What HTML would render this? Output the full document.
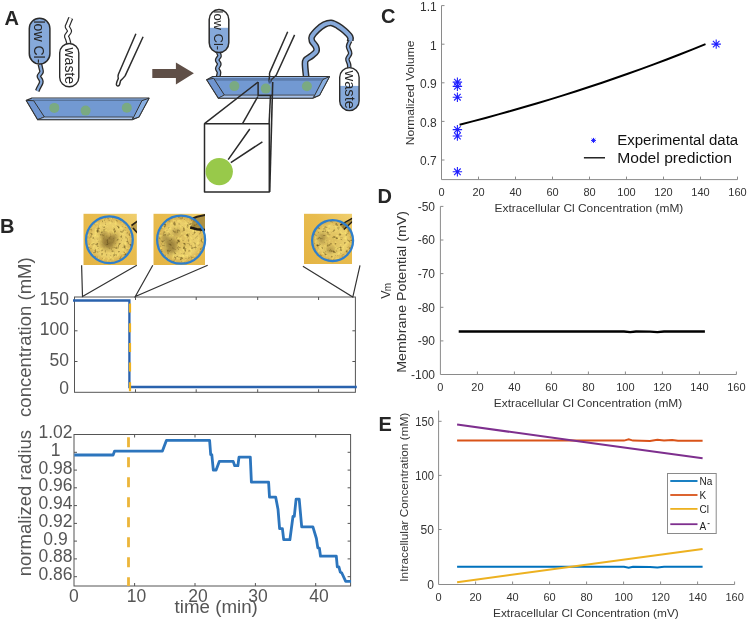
<!DOCTYPE html>
<html><head><meta charset="utf-8">
<style>
html,body{margin:0;padding:0;background:#fff;}
svg{display:block;font-family:"Liberation Sans",sans-serif;will-change:transform;}
</style></head>
<body>
<svg width="747" height="621" viewBox="0 0 747 621">
<defs>
  <g id="ast"><path d="M0,-4.7V4.7M-4.7,0H4.7M-3.3,-3.3L3.3,3.3M-3.3,3.3L3.3,-3.3" stroke="#1f1fff" stroke-width="1.1" fill="none"/></g>
  <radialGradient id="cellg" cx="0.5" cy="0.5" r="0.5">
    <stop offset="0" stop-color="#dcbc5c"/>
    <stop offset="0.7" stop-color="#ebd06c"/>
    <stop offset="0.9" stop-color="#dab656"/>
    <stop offset="1" stop-color="#cfa64a"/>
  </radialGradient>
  <linearGradient id="bgg" x1="0" y1="1" x2="1" y2="0">
    <stop offset="0" stop-color="#e4b444"/>
    <stop offset="0.6" stop-color="#e8bc4e"/>
    <stop offset="1" stop-color="#f0d070"/>
  </linearGradient>
  
    <filter id="dark3" x="0" y="0" width="1" height="1" color-interpolation-filters="sRGB">
      <feTurbulence type="fractalNoise" baseFrequency="0.3" numOctaves="2" seed="3"/>
      <feColorMatrix values="0 0 0 0 0.36  0 0 0 0 0.28  0 0 0 0 0.08  -2.6 0 0 0 1.16"/>
      <feGaussianBlur stdDeviation="0.35"/>
    </filter>
    <filter id="lite3" x="0" y="0" width="1" height="1" color-interpolation-filters="sRGB">
      <feTurbulence type="fractalNoise" baseFrequency="0.4" numOctaves="1" seed="13"/>
      <feColorMatrix values="0 0 0 0 1  0 0 0 0 0.92  0 0 0 0 0.45  0 2.4 0 0 -1.25"/>
    </filter>
    <filter id="dark5" x="0" y="0" width="1" height="1" color-interpolation-filters="sRGB">
      <feTurbulence type="fractalNoise" baseFrequency="0.3" numOctaves="2" seed="5"/>
      <feColorMatrix values="0 0 0 0 0.36  0 0 0 0 0.28  0 0 0 0 0.08  -2.6 0 0 0 1.16"/>
      <feGaussianBlur stdDeviation="0.35"/>
    </filter>
    <filter id="lite5" x="0" y="0" width="1" height="1" color-interpolation-filters="sRGB">
      <feTurbulence type="fractalNoise" baseFrequency="0.4" numOctaves="1" seed="15"/>
      <feColorMatrix values="0 0 0 0 1  0 0 0 0 0.92  0 0 0 0 0.45  0 2.4 0 0 -1.25"/>
    </filter>
    <filter id="dark7" x="0" y="0" width="1" height="1" color-interpolation-filters="sRGB">
      <feTurbulence type="fractalNoise" baseFrequency="0.3" numOctaves="2" seed="7"/>
      <feColorMatrix values="0 0 0 0 0.36  0 0 0 0 0.28  0 0 0 0 0.08  -2.6 0 0 0 1.16"/>
      <feGaussianBlur stdDeviation="0.35"/>
    </filter>
    <filter id="lite7" x="0" y="0" width="1" height="1" color-interpolation-filters="sRGB">
      <feTurbulence type="fractalNoise" baseFrequency="0.4" numOctaves="1" seed="17"/>
      <feColorMatrix values="0 0 0 0 1  0 0 0 0 0.92  0 0 0 0 0.45  0 2.4 0 0 -1.25"/>
    </filter>
  <filter id="blur2" x="-50%" y="-50%" width="200%" height="200%"><feGaussianBlur stdDeviation="2.2"/></filter>
</defs>

<!-- ============ PANEL LETTERS ============ -->
<g font-weight="bold" font-size="20" fill="#262626">
  <text x="4.5" y="25.4">A</text>
  <text x="0" y="232.9">B</text>
  <text x="381" y="22.5">C</text>
  <text x="377.6" y="202.8">D</text>
  <text x="378.5" y="430.8">E</text>
</g>

<!-- ============ PANEL C ============ -->
<g id="panelC">
  <path d="M441.5,5.6V179.6H737.5" stroke="#8a8a8a" stroke-width="1" fill="none"/>
  <path d="M441.5,5.6h3M441.5,44.2h3M441.5,82.8h3M441.5,121.4h3M441.5,160h3M478.5,179.6v-3M515.5,179.6v-3M552.5,179.6v-3M589.5,179.6v-3M626.5,179.6v-3M663.5,179.6v-3M700.5,179.6v-3M737.5,179.6v-3" stroke="#8a8a8a" stroke-width="1"/>
  <g font-size="12" fill="#333" text-anchor="end">
    <text x="436.7" y="11">1.1</text>
    <text x="436.7" y="49.6">1</text>
    <text x="436.7" y="88.2">0.9</text>
    <text x="436.7" y="126.8">0.8</text>
    <text x="436.7" y="165.4">0.7</text>
  </g>
  <g font-size="11" fill="#333" text-anchor="middle"><text x="441.5" y="196.4">0</text><text x="478.5" y="196.4">20</text><text x="515.5" y="196.4">40</text><text x="552.5" y="196.4">60</text><text x="589.5" y="196.4">80</text><text x="626.5" y="196.4">100</text><text x="663.5" y="196.4">120</text><text x="700.5" y="196.4">140</text><text x="737.5" y="196.4">160</text></g>
  <text x="494.6" y="212.2" font-size="11.5" fill="#333" textLength="188.7" lengthAdjust="spacingAndGlyphs">Extracellular Cl Concentration (mM)</text>
  <text transform="translate(414.3,92.9) rotate(-90)" font-size="11.6" fill="#333" text-anchor="middle" textLength="104.6" lengthAdjust="spacingAndGlyphs">Normalized Volume</text>
  <polyline points="459.6,124.72 472.5,121.36 485.5,117.91 498.4,114.38 511.4,110.76 524.3,107.05 537.3,103.24 550.2,99.34 563.1,95.34 576.1,91.24 589.0,87.03 602.0,82.72 614.9,78.30 627.8,73.77 640.8,69.13 653.7,64.37 666.7,59.49 679.6,54.50 692.6,49.38 705.5,44.14" stroke="#000" stroke-width="2" fill="none" stroke-linejoin="round"/>
  <use href="#ast" x="457.4" y="82.1"/>
  <use href="#ast" x="457.4" y="86.4"/>
  <use href="#ast" x="457.4" y="97.2"/>
  <use href="#ast" x="457.4" y="129.6"/>
  <use href="#ast" x="457.4" y="136"/>
  <use href="#ast" x="457.4" y="171.8"/>
  <use href="#ast" x="716.2" y="44.1"/>
  <path d="M593.5,137.9v5M591,140.4h5M591.7,138.6l3.6,3.6M591.7,142.2l3.6,-3.6" stroke="#1f1fff" stroke-width="1"/>
  <path d="M583.9,157.8H605" stroke="#000" stroke-width="1.3"/>
  <text x="617.2" y="145.3" font-size="14.7" fill="#111" textLength="121" lengthAdjust="spacingAndGlyphs">Experimental data</text>
  <text x="617.2" y="162.5" font-size="14.7" fill="#111" textLength="114.8" lengthAdjust="spacingAndGlyphs">Model prediction</text>
</g>

<!-- ============ PANEL D ============ -->
<g id="panelD">
  <path d="M440.4,206.4V374.5H736.4" stroke="#8a8a8a" stroke-width="1" fill="none"/>
  <path d="M440.4,206.4h3M440.4,240h3M440.4,273.6h3M440.4,307.3h3M440.4,340.9h3M477.4,374.5v-3M514.4,374.5v-3M551.4,374.5v-3M588.4,374.5v-3M625.4,374.5v-3M662.4,374.5v-3M699.4,374.5v-3M736.4,374.5v-3" stroke="#8a8a8a" stroke-width="1"/>
  <g font-size="12" fill="#333" text-anchor="end">
    <text x="435" y="210.8">-50</text>
    <text x="435" y="244.4">-60</text>
    <text x="435" y="278">-70</text>
    <text x="435" y="311.7">-80</text>
    <text x="435" y="345.3">-90</text>
    <text x="435" y="378.9">-100</text>
  </g>
  <g font-size="11" fill="#333" text-anchor="middle"><text x="440.4" y="391">0</text><text x="477.4" y="391">20</text><text x="514.4" y="391">40</text><text x="551.4" y="391">60</text><text x="588.4" y="391">80</text><text x="625.4" y="391">100</text><text x="662.4" y="391">120</text><text x="699.4" y="391">140</text><text x="736.4" y="391">160</text></g>
  <text x="493.8" y="406.8" font-size="11.5" fill="#333" textLength="188.4" lengthAdjust="spacingAndGlyphs">Extracellular Cl Concentration (mM)</text>
  <text transform="translate(405.7,291.9) rotate(-90)" font-size="12.5" fill="#333" text-anchor="middle" textLength="161.6" lengthAdjust="spacingAndGlyphs">Membrane Potential (mV)</text>
  <text transform="translate(389.8,298.8) rotate(-90)" font-size="12.5" fill="#333">V</text>
  <text transform="translate(390.9,291.3) rotate(-90)" font-size="10" fill="#333">m</text>
  <path d="M458.7,331.5H624L630.2,332.2L636,331.5L650,331.7L657.4,332.1L664,331.5H704.9" stroke="#000" stroke-width="2.3" fill="none"/>
</g>

<!-- ============ PANEL E ============ -->
<g id="panelE">
  <path d="M438.6,410.5V584.5H734.6" stroke="#8a8a8a" stroke-width="1" fill="none"/>
  <path d="M438.6,421.3h3M438.6,475.4h3M438.6,529.5h3M475.6,584.5v-3M512.6,584.5v-3M549.6,584.5v-3M586.6,584.5v-3M623.6,584.5v-3M660.6,584.5v-3M697.6,584.5v-3M734.6,584.5v-3" stroke="#8a8a8a" stroke-width="1"/>
  <g font-size="12" fill="#333" text-anchor="end">
    <text x="433.9" y="426" textLength="18.6" lengthAdjust="spacingAndGlyphs">150</text>
    <text x="433.9" y="480.1" textLength="18.6" lengthAdjust="spacingAndGlyphs">100</text>
    <text x="433.9" y="534.2">50</text>
    <text x="433.9" y="589.2">0</text>
  </g>
  <g font-size="11" fill="#333" text-anchor="middle"><text x="438.6" y="601.3">0</text><text x="475.6" y="601.3">20</text><text x="512.6" y="601.3">40</text><text x="549.6" y="601.3">60</text><text x="586.6" y="601.3">80</text><text x="623.6" y="601.3">100</text><text x="660.6" y="601.3">120</text><text x="697.6" y="601.3">140</text><text x="734.6" y="601.3">160</text></g>
  <text x="493" y="617.3" font-size="11.5" fill="#333" textLength="185.8" lengthAdjust="spacingAndGlyphs">Extracellular Cl Concentration (mV)</text>
  <text transform="translate(408.1,497.2) rotate(-90)" font-size="11.6" fill="#333" text-anchor="middle" textLength="169" lengthAdjust="spacingAndGlyphs">Intracellular Concentration (mM)</text>
  <path d="M457.1,566.8H624L628.7,567.8L633,566.8L650,567L657.4,567.4L664,566.8H702.6" stroke="#0072BD" stroke-width="2" fill="none"/>
  <path d="M457.1,440.6H624L628.7,439.3L633,440.6L650,441L657.4,439.8L664,440.6L672.2,440L678,440.7H702.6" stroke="#D95319" stroke-width="2" fill="none"/>
  <path d="M457.1,582.2L702.6,549.1" stroke="#EDB120" stroke-width="2"/>
  <path d="M457.1,424.6L580,441.5L702.6,458.2" stroke="#7E2F8E" stroke-width="2" fill="none"/>
  <rect x="667.5" y="473.5" width="48.7" height="60" fill="#fff" stroke="#8a8a8a" stroke-width="1"/>
  <path d="M670.3,481H697.5" stroke="#0072BD" stroke-width="1.8"/>
  <path d="M670.3,495H697.5" stroke="#D95319" stroke-width="1.8"/>
  <path d="M670.3,508.9H697.5" stroke="#EDB120" stroke-width="1.8"/>
  <path d="M670.3,524.2H697.5" stroke="#7E2F8E" stroke-width="1.8"/>
  <g font-size="10" fill="#222">
    <text x="699.6" y="485">Na</text>
    <text x="699.6" y="499">K</text>
    <text x="699.6" y="512.9">Cl</text>
    <text x="699.6" y="529.7">A</text>
  </g>
  <path d="M707.6,523.6h2" stroke="#222" stroke-width="0.9"/>
</g>

<!-- ============ PANEL B ============ -->
<g id="panelB">
  <rect x="74.5" y="297" width="280.9" height="95.3" fill="none" stroke="#555" stroke-width="1"/>
  <path d="M74.5,361.5h3M74.5,330.8h3M355.4,361.5h-3M355.4,330.8h-3M135.5,392.3v-3M196.2,392.3v-3M257.7,392.3v-3M318.6,392.3v-3M135.5,297v3M196.2,297v3M257.7,297v3M318.6,297v3" stroke="#555" stroke-width="1"/>
  <g font-size="17.5" fill="#555" text-anchor="end">
    <text x="69" y="305.3">150</text>
    <text x="69" y="334.7">100</text>
    <text x="69" y="365.6">50</text>
    <text x="69" y="393.6">0</text>
  </g>
  <path d="M73,300.5H129.4V387H356.8" stroke="#2a62ad" stroke-width="2.3" fill="none"/>
  <path d="M130,300.5V392" stroke="#EDB120" stroke-width="2.2" stroke-dasharray="9 10.7" stroke-dashoffset="-3"/>
  <rect x="74" y="434.5" width="276.6" height="151.5" fill="none" stroke="#555" stroke-width="1"/>
  <path d="M74,452.3h3M74,470.1h3M74,487.8h3M74,505.6h3M74,523.4h3M74,541.1h3M74,558.9h3M74,576.7h3M350.6,452.3h-3M350.6,470.1h-3M350.6,487.8h-3M350.6,505.6h-3M350.6,523.4h-3M350.6,541.1h-3M350.6,558.9h-3M350.6,576.7h-3M134.6,586v-3M195,586v-3M255.4,586v-3M315.7,586v-3M134.6,434.5v3M195,434.5v3M255.4,434.5v3M315.7,434.5v3" stroke="#555" stroke-width="1"/>
  <g font-size="17.5" fill="#555" text-anchor="middle">
    <text x="55.5" y="438.00">1.02</text>
    <text x="55.5" y="455.75">1</text>
    <text x="55.5" y="473.50">0.98</text>
    <text x="55.5" y="491.25">0.96</text>
    <text x="55.5" y="509.00">0.94</text>
    <text x="55.5" y="526.75">0.92</text>
    <text x="55.5" y="544.50">0.9</text>
    <text x="55.5" y="562.25">0.88</text>
    <text x="55.5" y="580.00">0.86</text>
  </g>
  <g font-size="17.5" fill="#555" text-anchor="middle">
    <text x="73.8" y="601.6">0</text>
    <text x="136.5" y="601.6">10</text>
    <text x="197.9" y="601.6">20</text>
    <text x="257.9" y="601.6">30</text>
    <text x="319" y="601.6">40</text>
  </g>
  <text x="174.6" y="612.9" font-size="18" fill="#555" textLength="83.2" lengthAdjust="spacingAndGlyphs">time (min)</text>
  <text transform="translate(30.5,337.1) rotate(-90)" font-size="18" fill="#555" text-anchor="middle" textLength="159.6" lengthAdjust="spacingAndGlyphs">concentration (mM)</text>
  <text transform="translate(30.6,503.1) rotate(-90)" font-size="18" fill="#555" text-anchor="middle" textLength="146.4" lengthAdjust="spacingAndGlyphs">normalized radius</text>
  <path d="M128.5,437.3V586" stroke="#ECB53A" stroke-width="2.8" stroke-dasharray="10 10"/>
  <polyline points="74.3,455 113.1,455 114.6,451.1 162.4,451.1 166.4,440.4 209.6,440.4 210.7,454.6 211.8,454.6 213.3,470 216.1,470 219.3,461.4 233.2,461.4 234.7,465.7 237.9,465.7 239,457.1 250.3,457.1 251.4,482.2 268.6,482.2 269.5,497.2 275.7,497.2 278,509.2 279.6,528.7 282.4,528.7 283.7,539.7 289.9,539.7 293,516.3 294.3,516.3 296.1,499.1 299.2,499.1 301.7,526.9 312.9,526.9 316.4,538.5 317.8,547.8 319.4,548.2 320.5,556.2 336.3,556.2 337.3,566.8 338.9,566.8 340.3,572.1 341.8,573 345.7,581.3 351,581.3" stroke="#2c75bd" stroke-width="2.8" fill="none" stroke-linejoin="round"/>
  
  <clipPath id="cc3"><circle cx="109.4" cy="239.7" r="23.5"/></clipPath>
  <clipPath id="pcc3"><rect x="83.3" y="213.6" width="53.6" height="51.5"/></clipPath>
  <g clip-path="url(#pcc3)">
    <rect x="83.3" y="213.6" width="53.6" height="51.5" fill="url(#bgg)"/>
    <circle cx="109.4" cy="239.7" r="23.5" fill="url(#cellg)"/>
    <rect x="83.3" y="213.6" width="53.6" height="51.5" filter="url(#dark3)" clip-path="url(#cc3)"/>
    <rect x="83.3" y="213.6" width="53.6" height="51.5" filter="url(#lite3)" clip-path="url(#cc3)"/>
    <g filter="url(#blur2)" fill="#5a4318" opacity="0.55"><ellipse cx="108" cy="243" rx="7" ry="6"/><ellipse cx="104" cy="235" rx="3" ry="3"/><ellipse cx="114" cy="238" rx="3" ry="4"/></g><path d="M137,220.5 L131.5,225 L130.5,227.5 L137,233.5 Z" fill="#8a7030" opacity="0.5"/><path d="M137.5,221 L131.5,225.5 M133,228 L137.5,233" stroke="#2a2215" stroke-width="1.6" fill="none"/>
  </g>
  <circle cx="109.4" cy="239.7" r="23.4" fill="none" stroke="#2f7fcc" stroke-width="2.2"/>
  
  <clipPath id="cc5"><circle cx="181.1" cy="239.7" r="24"/></clipPath>
  <clipPath id="pcc5"><rect x="153.3" y="213.6" width="51.7" height="51.4"/></clipPath>
  <g clip-path="url(#pcc5)">
    <rect x="153.3" y="213.6" width="51.7" height="51.4" fill="url(#bgg)"/>
    <circle cx="181.1" cy="239.7" r="24" fill="url(#cellg)"/>
    <rect x="153.3" y="213.6" width="51.7" height="51.4" filter="url(#dark5)" clip-path="url(#cc5)"/>
    <rect x="153.3" y="213.6" width="51.7" height="51.4" filter="url(#lite5)" clip-path="url(#cc5)"/>
    <g filter="url(#blur2)" fill="#5a4318" opacity="0.5"><ellipse cx="171" cy="246" rx="6" ry="8"/><ellipse cx="176" cy="232" rx="3" ry="3"/><ellipse cx="165" cy="238" rx="3" ry="4"/></g><path d="M193.9,217.5 L205.5,215 V231 L190.2,228.2 Z" fill="#7a6224" opacity="0.55"/><path d="M192.5,218.5 L197,216.8 L205.5,214.8" stroke="#2a2215" stroke-width="2" fill="none"/><path d="M190.2,227.6 L197,229.2 L205.5,230" stroke="#1e180e" stroke-width="2.6" fill="none"/>
  </g>
  <circle cx="181.1" cy="239.7" r="24" fill="none" stroke="#2f7fcc" stroke-width="2.2"/>
  
  <clipPath id="cc7"><circle cx="332.6" cy="240.6" r="20.5"/></clipPath>
  <clipPath id="pcc7"><rect x="303.9" y="213.6" width="48.2" height="50.4"/></clipPath>
  <g clip-path="url(#pcc7)">
    <rect x="303.9" y="213.6" width="48.2" height="50.4" fill="url(#bgg)"/>
    <circle cx="332.6" cy="240.6" r="20.5" fill="url(#cellg)"/>
    <rect x="303.9" y="213.6" width="48.2" height="50.4" filter="url(#dark7)" clip-path="url(#cc7)"/>
    <rect x="303.9" y="213.6" width="48.2" height="50.4" filter="url(#lite7)" clip-path="url(#cc7)"/>
    <g filter="url(#blur2)" fill="#5a4318" opacity="0.4"><ellipse cx="322" cy="238" rx="4" ry="6"/><ellipse cx="330" cy="250" rx="5" ry="3"/></g><path d="M340.2,225 L352.5,218.4 V222 L343.9,229.6 Z" fill="#6a5520" opacity="0.5"/><path d="M352.5,218.2 L340.2,225 M352.5,221.4 L343.9,229.6" stroke="#231c10" stroke-width="1.4" fill="none"/>
  </g>
  <circle cx="332.6" cy="240.6" r="20.5" fill="none" stroke="#2f7fcc" stroke-width="2.2"/>
  <g stroke="#333" stroke-width="1.2" fill="none">
    <path d="M81.6,265.3L82.5,296.5L136.8,265.3"/>
    <path d="M152.8,265.3L135.3,296.5L207.7,265.3"/>
    <path d="M302.9,266.2L352.8,297.1L360,265.4"/>
  </g>
</g>

<!-- ============ PANEL A ============ -->
<g id="panelA" stroke-linejoin="round">
  <path d="M39.90,64.20C40.07,64.92 40.63,67.18 40.90,68.50C41.17,69.82 41.83,70.82 41.50,72.10C41.17,73.38 39.00,74.87 38.90,76.20C38.80,77.53 40.52,79.02 40.90,80.10C41.28,81.18 41.63,81.30 41.20,82.70C40.77,84.10 38.95,87.12 38.30,88.50C37.65,89.88 37.47,90.58 37.30,91.00" stroke="#2b2b2b" stroke-width="4.8" fill="none"/>
  <path d="M39.90,64.20C40.07,64.92 40.63,67.18 40.90,68.50C41.17,69.82 41.83,70.82 41.50,72.10C41.17,73.38 39.00,74.87 38.90,76.20C38.80,77.53 40.52,79.02 40.90,80.10C41.28,81.18 41.63,81.30 41.20,82.70C40.77,84.10 38.95,87.12 38.30,88.50C37.65,89.88 37.47,90.58 37.30,91.00" stroke="#86a9da" stroke-width="2.2" fill="none"/>
  <rect x="29.3" y="18.2" width="20.6" height="45.8" rx="10.3" fill="#86a9da" stroke="#2b2b2b" stroke-width="1.5"/>
  <text transform="translate(34.3,20.5) rotate(90)" font-size="14" fill="#262626" textLength="42.8" lengthAdjust="spacingAndGlyphs">low Cl-</text>
  <path d="M68.90,43.50C68.68,42.75 67.98,40.28 67.60,39.00C67.22,37.72 66.28,37.08 66.60,35.80C66.92,34.52 69.38,32.80 69.50,31.30C69.62,29.80 67.57,27.87 67.30,26.80C67.03,25.73 67.33,26.35 67.90,24.90C68.47,23.45 70.23,19.23 70.70,18.10" stroke="#2b2b2b" stroke-width="5.2" fill="none"/>
  <path d="M68.90,43.50C68.68,42.75 67.98,40.28 67.60,39.00C67.22,37.72 66.28,37.08 66.60,35.80C66.92,34.52 69.38,32.80 69.50,31.30C69.62,29.80 67.57,27.87 67.30,26.80C67.03,25.73 67.33,26.35 67.90,24.90C68.47,23.45 70.23,19.23 70.70,18.10" stroke="#fff" stroke-width="2.8" fill="none"/>
  <rect x="59.7" y="43.5" width="19.1" height="43.3" rx="9.55" fill="#fff" stroke="#2b2b2b" stroke-width="1.4"/>
  <text transform="translate(65.1,47.5) rotate(90)" font-size="14" fill="#262626" textLength="36.6" lengthAdjust="spacingAndGlyphs">waste</text>
  <path d="M135.9,33.7L118.4,74.3Q117.6,76.5 118.3,78.5L117,81.5Q115.5,85.8 117.6,86Q119.6,86.2 120,83L120.6,80.6Q123,78.5 125.1,75.9L143.1,36.8" stroke="#2e2e2e" stroke-width="1.5" fill="none"/>
  <polygon points="26.3,100.4 31.4,98.2 149,98.2 138.9,117 132.3,119.6 37.7,119.6" fill="#7299d2" stroke="#333" stroke-width="1.2"/>
  <polygon points="31.8,98.6 148.3,98.6 146.8,99.7 32.8,99.7" fill="#8db0e2"/>
  <polygon points="32.8,99.6 146.8,99.6 141.9,100.9 33.7,100.9" fill="#58759e"/>
  <polygon points="26.3,100.4 33.7,100.7 44.4,117 37.7,119.6" fill="#6f95d0" stroke="#333" stroke-width="1"/>
  <polygon points="149,98.2 141.9,100.7 132.6,119.2 138.9,117" fill="#8ab0e2" stroke="#333" stroke-width="1"/>
  <polygon points="44.4,117 132.8,117 132.3,119.6 37.7,119.6" fill="#a9c3ea" stroke="#333" stroke-width="0.8"/>
  <g fill="#7aaa82">
    <circle cx="54.3" cy="107.9" r="5"/>
    <circle cx="85.6" cy="110.6" r="5"/>
    <circle cx="126.8" cy="107.8" r="5"/>
  </g>
  <polygon points="152.3,69.1 175.9,69.1 175.9,62.6 193.9,73.3 175.9,84.5 175.9,78.1 152.3,78.1" fill="#5f4f47"/>

  <path d="M218.30,52.50C218.50,53.08 219.68,54.75 219.50,56.00C219.32,57.25 217.23,58.67 217.20,60.00C217.17,61.33 219.28,62.58 219.30,64.00C219.32,65.42 217.35,67.08 217.30,68.50C217.25,69.92 218.97,70.75 219.00,72.50C219.03,74.25 217.75,77.92 217.50,79.00" stroke="#2b2b2b" stroke-width="4.8" fill="none"/>
  <path d="M218.30,52.50C218.50,53.08 219.68,54.75 219.50,56.00C219.32,57.25 217.23,58.67 217.20,60.00C217.17,61.33 219.28,62.58 219.30,64.00C219.32,65.42 217.35,67.08 217.30,68.50C217.25,69.92 218.97,70.75 219.00,72.50C219.03,74.25 217.75,77.92 217.50,79.00" stroke="#86a9da" stroke-width="2.2" fill="none"/>
  <clipPath id="b3"><rect x="209.2" y="9.6" width="19.6" height="43" rx="9.8"/></clipPath>
  <rect x="209.2" y="9.6" width="19.6" height="43" rx="9.8" fill="#fff"/>
  <rect x="208" y="27.8" width="22" height="26" fill="#86a9da" clip-path="url(#b3)"/>
  <g clip-path="url(#b3)"><text transform="translate(214.3,10.5) rotate(90)" font-size="13" fill="#262626" textLength="39.7" lengthAdjust="spacingAndGlyphs">low Cl-</text></g>
  <rect x="209.2" y="9.6" width="19.6" height="43" rx="9.8" fill="none" stroke="#2b2b2b" stroke-width="1.5"/>
  <path d="M306.30,78.00C306.10,75.95 305.20,68.68 305.10,65.70C305.00,62.72 304.57,61.78 305.70,60.10C306.83,58.42 310.12,57.10 311.90,55.60C313.68,54.10 315.73,52.60 316.40,51.10C317.07,49.60 316.65,48.30 315.90,46.60C315.15,44.90 312.57,42.60 311.90,40.90C311.23,39.20 310.97,38.27 311.90,36.40C312.83,34.53 315.43,31.67 317.50,29.70C319.57,27.73 322.03,25.73 324.30,24.60C326.57,23.47 328.85,22.72 331.10,22.90C333.35,23.08 335.55,24.38 337.80,25.70C340.05,27.02 342.53,28.92 344.60,30.80C346.67,32.68 349.27,35.32 350.20,37.00C351.13,38.68 350.20,40.25 350.20,40.90" stroke="#2b2b2b" stroke-width="6.8" fill="none"/>
  <path d="M306.30,78.00C306.10,75.95 305.20,68.68 305.10,65.70C305.00,62.72 304.57,61.78 305.70,60.10C306.83,58.42 310.12,57.10 311.90,55.60C313.68,54.10 315.73,52.60 316.40,51.10C317.07,49.60 316.65,48.30 315.90,46.60C315.15,44.90 312.57,42.60 311.90,40.90C311.23,39.20 310.97,38.27 311.90,36.40C312.83,34.53 315.43,31.67 317.50,29.70C319.57,27.73 322.03,25.73 324.30,24.60C326.57,23.47 328.85,22.72 331.10,22.90C333.35,23.08 335.55,24.38 337.80,25.70C340.05,27.02 342.53,28.92 344.60,30.80C346.67,32.68 349.27,35.32 350.20,37.00C351.13,38.68 350.20,40.25 350.20,40.90" stroke="#86a9da" stroke-width="3.9" fill="none"/>
  <path d="M350.20,40.90C349.83,41.85 348.00,44.53 348.00,46.60C348.00,48.67 350.30,51.23 350.20,53.30C350.10,55.37 347.58,57.12 347.40,59.00C347.22,60.88 348.78,62.60 349.10,64.60C349.42,66.60 349.27,69.93 349.30,71.00" stroke="#2b2b2b" stroke-width="4.6" fill="none"/>
  <path d="M350.20,40.90C349.83,41.85 348.00,44.53 348.00,46.60C348.00,48.67 350.30,51.23 350.20,53.30C350.10,55.37 347.58,57.12 347.40,59.00C347.22,60.88 348.78,62.60 349.10,64.60C349.42,66.60 349.27,69.93 349.30,71.00" stroke="#86a9da" stroke-width="2" fill="none"/>
  <clipPath id="b4"><rect x="339.7" y="67.6" width="19.4" height="43" rx="9.7"/></clipPath>
  <rect x="339.7" y="67.6" width="19.4" height="43" rx="9.7" fill="#fff"/>
  <rect x="339" y="85.9" width="21" height="26" fill="#86a9da" clip-path="url(#b4)"/>
  <rect x="339.7" y="67.6" width="19.4" height="43" rx="9.7" fill="none" stroke="#2b2b2b" stroke-width="1.4"/>
  <text transform="translate(344.7,70.5) rotate(90)" font-size="14.5" fill="#262626" textLength="38.5" lengthAdjust="spacingAndGlyphs">waste</text>
  <polygon points="206.7,79.7 212.7,76.5 329.5,76.5 319.5,95.3 312.9,98.1 218.4,98.1" fill="#7299d2" stroke="#333" stroke-width="1.2"/>
  <polygon points="213,76.9 328.8,76.9 327,78.2 213.4,78.2" fill="#8db0e2"/>
  <polygon points="213.4,78.1 327,78.1 322.8,80.8 214,80.8" fill="#5d7cab"/>
  <polygon points="206.7,79.7 213.7,78.3 224.4,95.1 218.4,98.1" fill="#6f95d0" stroke="#333" stroke-width="1"/>
  <polygon points="329.5,76.5 322.8,79.6 313.5,97.6 319.5,95.3" fill="#8ab0e2" stroke="#333" stroke-width="1"/>
  <polygon points="224.4,95.1 314.5,95.1 312.9,98.1 218.4,98.1" fill="#a9c3ea" stroke="#333" stroke-width="0.8"/>
  <g fill="#7aaa82">
    <circle cx="234.4" cy="86.1" r="5"/>
    <circle cx="265.8" cy="88.6" r="5"/>
    <circle cx="306.9" cy="86.3" r="5"/>
  </g>
  <path d="M287.7,31.8L269.9,72.1Q269.2,74 269.6,75.3L268.9,81.5M294.6,34.9L276.2,75.3Q273.5,77.8 271.5,79.5L270.5,82" stroke="#2e2e2e" stroke-width="1.5" fill="none"/>
  <path d="M268.4,80 L271.5,79.5 L270.5,83.6 L268.6,83.6Z" fill="#3f5a85"/>
  <g stroke="#2a2a2a" stroke-width="1.5" fill="none">
    <path d="M258.1,82V95.4H272.8"/>
    <path d="M258.1,82L204.5,123.7"/>
    <path d="M257.9,96.5L242.4,123.8"/>
    <path d="M272.7,82L269.7,191.9" stroke-width="1.6"/>
    <path d="M270.5,95.1L269.1,123.8"/>
    <rect x="204.5" y="123.7" width="64.8" height="68.4" fill="#fff"/>
    <path d="M228.2,159.6L249.8,129M230.8,162.6L262.4,141.8"/>
  </g>
  <circle cx="219.2" cy="171.6" r="13.7" fill="#98c94a"/>
</g>
</svg>
</body></html>
